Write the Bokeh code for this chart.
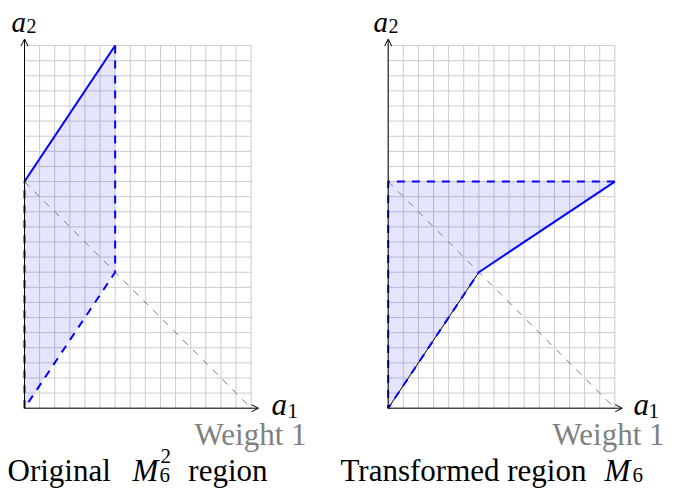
from bokeh.plotting import figure
from bokeh.models import Range1d, Arrow, OpenHead
from bokeh.embed import file_html
from bokeh.resources import INLINE
from bokeh.core.properties import value

# ---------------- data (grid units: 1 unit = one grid cell) ----------------
grid_cols = 15          # a1 direction
grid_rows = 24          # a2 direction
diag_x = [0, 15]        # weight-1 line
diag_y = [15, 0]

# Original M_6^2 region
orig_fill_x = [0, 6, 6, 0]
orig_fill_y = [0, 9, 24, 15]
orig_solid_x = [0, 6]
orig_solid_y = [15, 24]
orig_dash_x = [6, 6, 0, 0]
orig_dash_y = [24, 9, 0, 15]

# Transformed region M_6
trans_fill_x = [0, 6, 15, 0]
trans_fill_y = [0, 9, 15, 15]
trans_solid_x = [6, 15]
trans_solid_y = [9, 15]
trans_dash_x = [15, 0, 0, 6]
trans_dash_y = [15, 15, 0, 9]
trans_thin_x = [0, 6]
trans_thin_y = [0, 9]

# ---------------- layout helpers ----------------
S = 15.11            # px per grid unit
OX, OY = 24.0, 407.7  # picture position of left origin
DX = 24.07           # offset of right panel, in grid units
AX_X = 15.49         # axis arrow extents
AX_Y = 24.43
W, H = 673, 489
TEXT_SHIFT = 8       # baseline correction (px)


def X(px):
    return (px - OX) / S


def Y(py):
    return (OY - py) / S


p = figure(width=W, height=H,
           x_range=Range1d(X(0), X(W)), y_range=Range1d(Y(H), Y(0)),
           output_backend="svg", toolbar_location=None, min_border=0,
           x_axis_type=None, y_axis_type=None)
p.grid.visible = False
p.outline_line_color = None
p.background_fill_color = "white"

FONT = value("Liberation Serif")
BLUE = "#0000ff"

for off in (0.0, DX):
    # grid
    xs = [[off + i, off + i] for i in range(grid_cols + 1)]
    ys = [[0, grid_rows] for i in range(grid_cols + 1)]
    xs += [[off, off + grid_cols] for j in range(grid_rows + 1)]
    ys += [[j, j] for j in range(grid_rows + 1)]
    p.multi_line(xs, ys, line_color="#cccccc", line_width=1)

# fills
p.patch(orig_fill_x, orig_fill_y, fill_color=BLUE, fill_alpha=0.1, line_color=None)
p.patch([x + DX for x in trans_fill_x], trans_fill_y, fill_color=BLUE, fill_alpha=0.1, line_color=None)

for off in (0.0, DX):
    # weight 1 diagonal
    p.line([x + off for x in diag_x], diag_y, line_color="#808080", line_width=1, line_dash="7 7")
    # axes
    p.add_layout(Arrow(end=OpenHead(size=7, line_width=1, line_color="black"),
                       x_start=off, y_start=0, x_end=off + AX_X, y_end=0,
                       line_color="black", line_width=1))
    p.add_layout(Arrow(end=OpenHead(size=7, line_width=1, line_color="black"),
                       x_start=off, y_start=0, x_end=off, y_end=AX_Y,
                       line_color="black", line_width=1))

p.line([x + DX for x in trans_thin_x], trans_thin_y, line_color="black", line_width=1)

# region boundaries
p.line(orig_solid_x, orig_solid_y, line_color=BLUE, line_width=2)
p.line(orig_dash_x, orig_dash_y, line_color=BLUE, line_width=2, line_dash="8 7")
p.line([x + DX for x in trans_solid_x], trans_solid_y, line_color=BLUE, line_width=2)
p.line([x + DX for x in trans_dash_x], trans_dash_y, line_color=BLUE, line_width=2, line_dash="8 7")


def txt(px, py, s, size="31px", style="normal", color="black", align="left"):
    p.text(x=[X(px)], y=[Y(py - TEXT_SHIFT)], text=[s], text_font=FONT, text_font_size=size,
           text_font_style=style, text_color=color, text_align=align,
           text_baseline="alphabetic")


# axis labels
txt(271, 412, "a", style="italic")
txt(287, 418, "1", size="21px")
txt(633, 412, "a", style="italic")
txt(648, 418, "1", size="21px")
txt(11, 29, "a", size="29px", style="italic")
txt(26, 33, "2", size="20px")
txt(373, 29, "a", size="29px", style="italic")
txt(388, 33, "2", size="20px")

# weight labels
txt(250, 442, "Weight 1", color="#808080", align="center")
txt(608, 442, "Weight 1", color="#808080", align="center")

# titles
txt(7, 478, "Original")
txt(145, 478, "M", style="italic", align="center")
txt(159, 482, "6", size="21px")
txt(160, 463, "2", size="21px")
txt(267, 478, "region", align="right")

txt(340, 478, "Transformed region")
txt(617, 478, "M", style="italic", align="center")
txt(632, 482, "6", size="21px")

open("out.html", "w").write(file_html(p, INLINE))
